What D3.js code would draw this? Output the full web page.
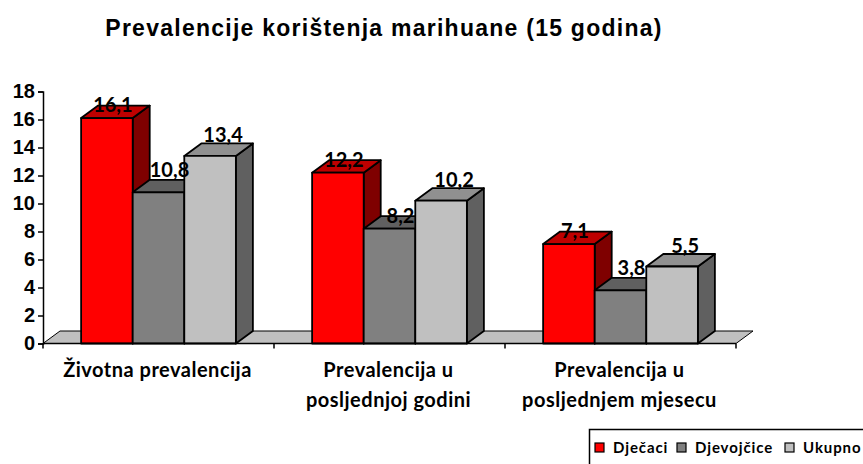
<!DOCTYPE html>
<html>
<head>
<meta charset="utf-8">
<script src="https://cdnjs.cloudflare.com/ajax/libs/d3/7.8.5/d3.min.js"></script>
<style>
html, body { margin: 0; padding: 0; background: #fff; overflow: hidden; }
svg { display: block; }
</style>
</head>
<body>
<script>
var categories = [
  ['Životna prevalencija'],
  ['Prevalencija u', 'posljednjoj godini'],
  ['Prevalencija u', 'posljednjem mjesecu']
];
var seriesNames = ['Dječaci', 'Djevojčice', 'Ukupno'];
var djecaci = [16.1, 12.2, 7.1];
var djevojcice = [10.8, 8.2, 3.8];
var ukupno = [13.4, 10.2, 5.5];
var yTicks = [0, 2, 4, 6, 8, 10, 12, 14, 16, 18];
var allSeries = [djecaci, djevojcice, ukupno];

// front, top, side colour per series
var faces = [
  ['#ff0000', '#bf0000', '#7f0000'],
  ['#808080', '#606060', '#404040'],
  ['#c0c0c0', '#909090', '#606060']
];

var width = 863, height = 464;
var dx = 17, dy = 12.5;   // 3d depth

var svg = d3.select('body').append('svg').attr('width', width).attr('height', height);

var x = d3.scaleBand().domain([0, 1, 2]).range([43, 736]);
var y = d3.scaleLinear().domain([0, 18]).range([343.5, 91.5]);
var xs = d3.scaleBand().domain([0, 1, 2]).range([0, x.bandwidth() * 0.67]);
var groupPad = x.bandwidth() * 0.165;

svg.append('text')
  .attr('x', 384).attr('y', 36)
  .attr('text-anchor', 'middle')
  .attr('font-family', 'Liberation Sans')
  .attr('font-weight', 'bold')
  .attr('font-size', 23)
  .attr('letter-spacing', 1.25)
  .attr('fill', '#000')
  .text('Prevalencije korištenja marihuane (15 godina)');

// floor
var x0 = x.range()[0], x1 = x.range()[1], y0 = y(0);
svg.append('path')
  .attr('d', 'M' + x0 + ',' + y0 + 'L' + (x0 + dx) + ',' + (y0 - dy) + 'L' + (x1 + dx) + ',' + (y0 - dy) + 'L' + x1 + ',' + y0 + 'Z')
  .attr('fill', '#c0c0c0')
  .attr('stroke', '#000')
  .attr('stroke-width', 1);

// bars, left to right so nearer sides get covered
[0, 1, 2].forEach(function(c) {
  allSeries.forEach(function(vals, s) {
    var l = x(c) + groupPad + xs(s);
    var r = l + xs.bandwidth();
    var t = y(vals[c]);
    var g = svg.append('g')
      .attr('stroke', '#000')
      .attr('stroke-width', 1.8)
      .attr('stroke-linejoin', 'round');
    g.append('path')
      .attr('d', 'M' + r + ',' + t + 'L' + (r + dx) + ',' + (t - dy) + 'L' + (r + dx) + ',' + (y0 - dy) + 'L' + r + ',' + y0 + 'Z')
      .attr('fill', faces[s][2]);
    g.append('path')
      .attr('d', 'M' + l + ',' + t + 'L' + (l + dx) + ',' + (t - dy) + 'L' + (r + dx) + ',' + (t - dy) + 'L' + r + ',' + t + 'Z')
      .attr('fill', faces[s][1]);
    g.append('rect')
      .attr('x', l).attr('y', t)
      .attr('width', r - l).attr('height', y0 - t)
      .attr('fill', faces[s][0]);
  });
});

// value labels go over everything
var labelShift = [6, 11, 13];
var labelLift = [6, 15, 14];
[0, 1, 2].forEach(function(c) {
  allSeries.forEach(function(vals, s) {
    // the 8,2 label sits lower, right above the front edge
    var lift = (c == 1 && s == 1) ? 6 : labelLift[s];
    svg.append('text')
      .attr('x', x(c) + groupPad + xs(s) + xs.bandwidth() / 2 + labelShift[s])
      .attr('y', y(vals[c]) - lift)
      .attr('text-anchor', 'middle')
      .attr('font-family', 'Lato')
      .attr('font-weight', 'bold')
      .attr('font-size', 20)
      .attr('fill', '#000')
      .text(String(vals[c]).replace('.', ','));
  });
});

// axes
var yAxis = d3.axisLeft(y).tickValues(yTicks).tickSize(5).tickPadding(3);
var yg = svg.append('g').attr('transform', 'translate(' + x0 + ',0)').call(yAxis);
yg.selectAll('text')
  .attr('font-family', 'Liberation Sans')
  .attr('font-weight', 'bold')
  .attr('font-size', 20)
  .attr('fill', '#000');
yg.selectAll('line, path').attr('stroke', '#000').attr('stroke-width', 1.5);

svg.append('line')
  .attr('x1', x0).attr('x2', x1).attr('y1', y0).attr('y2', y0)
  .attr('stroke', '#000').attr('stroke-width', 1.5);
[0, 1, 2, 3].forEach(function(i) {
  var tx = x0 + i * x.step();
  svg.append('line')
    .attr('x1', tx).attr('x2', tx).attr('y1', y0).attr('y2', y0 + 5)
    .attr('stroke', '#000').attr('stroke-width', 1.5);
});

// category labels
categories.forEach(function(lines, c) {
  lines.forEach(function(line, i) {
    svg.append('text')
      .attr('x', x(c) + x.bandwidth() / 2 - 1)
      .attr('y', 377 + i * 30)
      .attr('text-anchor', 'middle')
      .attr('font-family', 'Lato')
      .attr('font-weight', 'bold')
      .attr('font-size', 20)
      .attr('letter-spacing', 0.5)
      .attr('fill', '#000')
      .text(line);
  });
});

// legend, runs off the right edge like the original
svg.append('rect')
  .attr('x', 589.5).attr('y', 429.5)
  .attr('width', 280).attr('height', 40)
  .attr('fill', '#fff')
  .attr('stroke', '#000')
  .attr('stroke-width', 1.5);
var legendX = [595, 677, 785];
seriesNames.forEach(function(name, s) {
  svg.append('rect')
    .attr('x', legendX[s]).attr('y', 443)
    .attr('width', 9).attr('height', 9)
    .attr('fill', faces[s][0])
    .attr('stroke', '#000')
    .attr('stroke-width', 1.2);
  svg.append('text')
    .attr('x', legendX[s] + 18).attr('y', 453)
    .attr('font-family', 'Lato')
    .attr('font-weight', 'bold')
    .attr('font-size', 15)
    .attr('letter-spacing', 0.9)
    .attr('fill', '#000')
    .text(name);
});
</script>
</body>
</html>
